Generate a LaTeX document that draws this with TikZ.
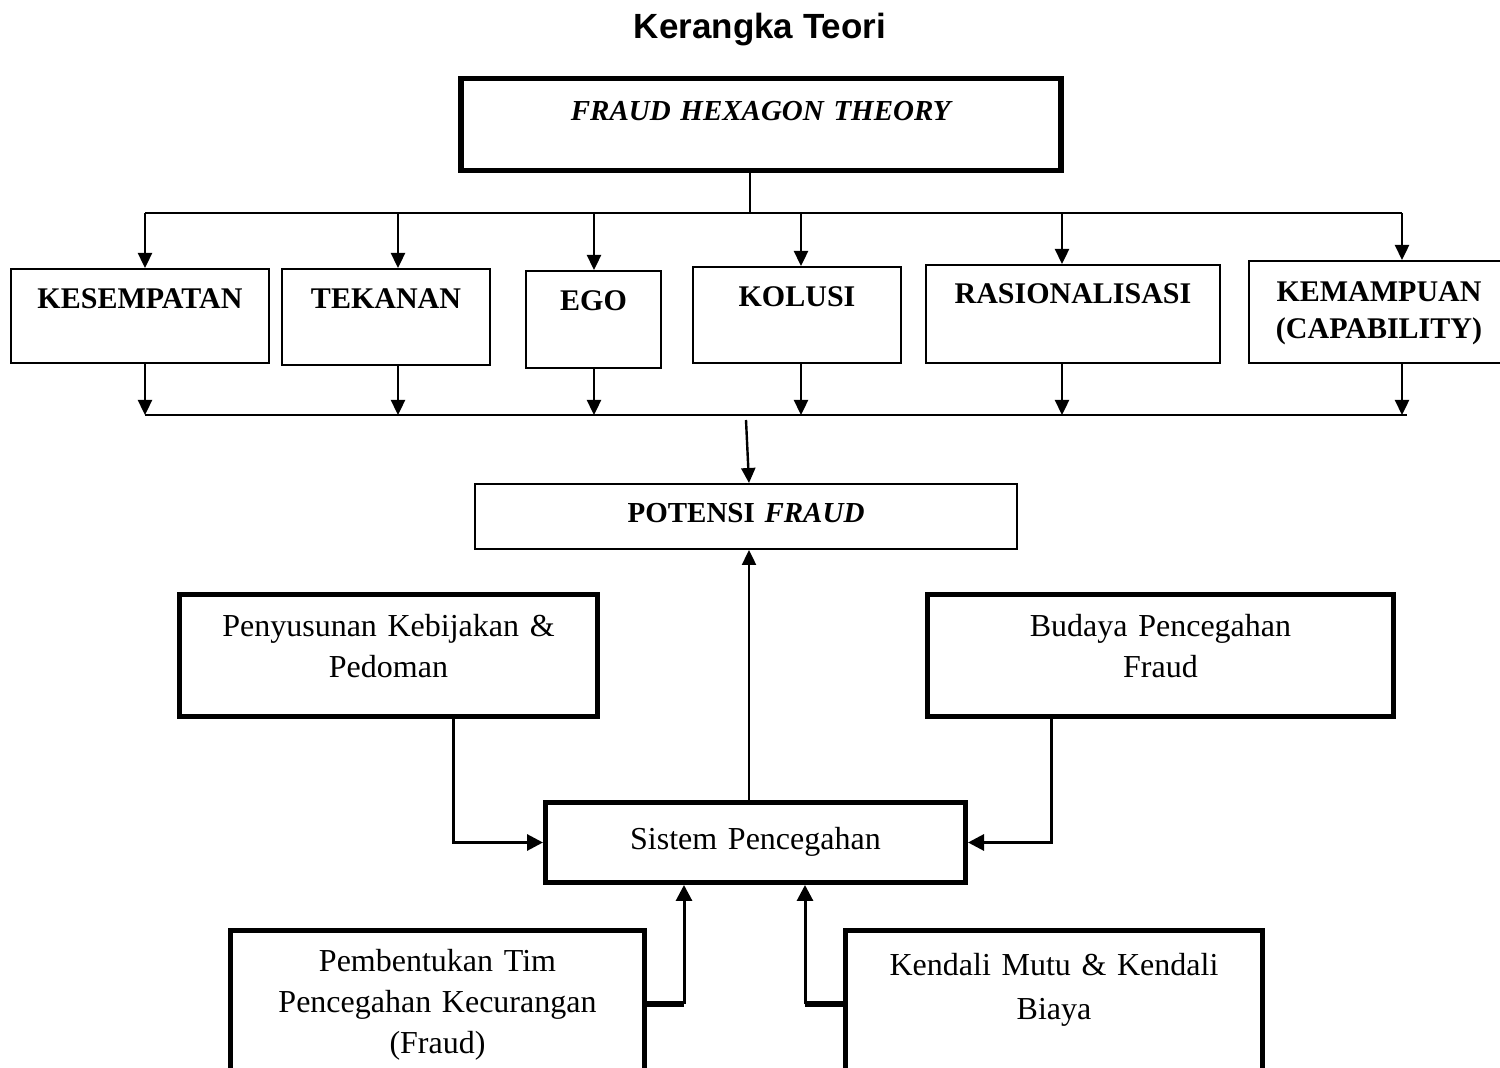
\documentclass[tikz,border=0pt]{standalone}
\usepackage{fontspec}
\setmainfont{Liberation Serif}
\setsansfont{Liberation Sans}
\usetikzlibrary{arrows.meta}

\tikzset{
  thinbox/.style = {draw, line width=1pt, inner sep=0pt, anchor=north west, align=center},
  thickbox/.style = {draw, line width=2.5pt, inner sep=0pt, anchor=north west, align=center},
  factor/.style = {thinbox, font=\fontsize{15}{18.5}\selectfont\bfseries},
  pillar/.style = {thickbox, font=\fontsize{16}{20.5}\selectfont},
  bus/.style = {line width=1pt},
  arr/.style = {line width=1.2pt, -{Triangle[length=7.5pt,width=7pt]}},
  feed/.style = {line width=1.5pt, -{Triangle[length=8pt,width=8pt]}},
  stub/.style = {line width=3pt}
}

\begin{document}
\begin{tikzpicture}[x=0.5pt, y=-0.5pt]
  \useasboundingbox (0,0) rectangle (1500,1068);
  \clip (0,0) rectangle (1500,1068);

  \node (title) [font=\sffamily\bfseries\fontsize{17.5}{20}\selectfont] at (760,30) {Kerangka Teori};

  \node (theory) [thickbox, line width=2.75pt, text width=300pt, text height=21pt, text depth=25pt,
    font=\bfseries\itshape\fontsize{14.5}{18}\selectfont] at (458,76) {FRAUD HEXAGON THEORY};

  % the six elements
  \node (kes) [factor, text width=129pt, text height=20pt, text depth=27pt] at (10,268) {KESEMPATAN};
  \node (tek) [factor, text width=104pt, text height=20pt, text depth=28pt] at (281,268) {TEKANAN};
  \node (ego) [factor, text width=67.5pt, text height=20pt, text depth=28.5pt] at (525,270) {EGO};
  \node (kol) [factor, text width=104pt, text height=20pt, text depth=28pt] at (692,266) {KOLUSI};
  \node (ras) [factor, text width=147pt, text height=19.5pt, text depth=29.5pt] at (925,264) {RASIONALISASI};
  \node (kem) [factor, text width=130pt, text height=20.5pt, text depth=30.5pt] at (1248,260) {KEMAMPUAN\\(CAPABILITY)};

  \coordinate (topbusL) at (145,213);
  \coordinate (topbusR) at (1402,213);
  \coordinate (lowbusL) at (145,415);
  \coordinate (lowbusR) at (1407,415);

  \draw [bus] (750,0 |- theory.south) -- (750,0 |- topbusL);
  \draw [bus] (topbusL) -- (topbusR);
  \draw [bus] (lowbusL) -- (lowbusR);
  \foreach \f/\x in {kes/145, tek/398, ego/594, kol/801, ras/1062, kem/1402}
  {
    \draw [arr] (\x,0 |- topbusL) -- (\x,0 |- \f.north);
    \draw [arr] (\x,0 |- \f.south) -- (\x,0 |- lowbusL);
  }

  \node (potensi) [thinbox, text width=271pt, text height=19.5pt, text depth=13pt,
    font=\bfseries\fontsize{14.5}{18}\selectfont] at (474,483) {POTENSI \textit{FRAUD}};
  \draw [arr] (746,420) -- (749,0 |- potensi.north);

  % prevention system and its four pillars
  \node (pen) [pillar, text width=209pt, text height=21pt, text depth=40pt] at (177,592) {Penyusunan Kebijakan \&\\Pedoman};
  \node (bud) [pillar, text width=233pt, text height=21pt, text depth=40pt] at (925,592) {Budaya Pencegahan\\Fraud};
  \node (sis) [pillar, text width=210pt, text height=23.5pt, text depth=16.5pt] at (543,800) {Sistem Pencegahan};
  \node (pem) [pillar, text width=207pt, text height=20.5pt, text depth=53pt] at (228,928) {Pembentukan Tim\\Pencegahan Kecurangan\\(Fraud)};
  \node (ken) [pillar, text width=208.5pt, text height=22.5pt, text depth=51pt] at (843,928) {Kendali Mutu \& Kendali\\[1.5pt]Biaya};

  \draw [arr] (749,0 |- sis.north) -- (749,0 |- potensi.south);
  \draw [feed] (453,0 |- pen.south) |- (sis.west);
  \draw [feed] (1051,0 |- bud.south) |- (sis.east);
  \draw [stub] (pem.east) -- (684,0 |- pem.east);
  \draw [feed] (684,0 |- pem.east) -- (684,0 |- sis.south);
  \draw [stub] (ken.west) -- (805,0 |- ken.west);
  \draw [feed] (805,0 |- ken.west) -- (805,0 |- sis.south);
\end{tikzpicture}
\end{document}
